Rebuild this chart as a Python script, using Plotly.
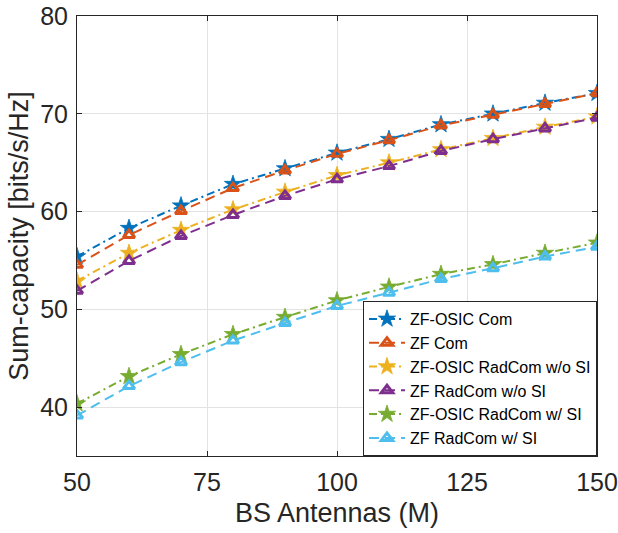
import plotly.graph_objects as go

# BS antenna counts (M)
antennas = [50, 60, 70, 80, 90, 100, 110, 120, 130, 140, 150]

# Sum-capacity [bits/s/Hz] per scheme
zf_osic_com = [55.4, 58.3, 60.6, 62.8, 64.4, 66.0, 67.4, 68.9, 70.0, 71.1, 72.1]
zf_com = [54.55, 57.6, 60.05, 62.4, 64.2, 65.9, 67.3, 68.8, 69.9, 71.0, 72.1]
zf_osic_radcom_wo_si = [52.9, 55.75, 58.1, 60.2, 62.0, 63.7, 65.0, 66.35, 67.5, 68.65, 69.7]
zf_radcom_wo_si = [51.9, 54.95, 57.5, 59.65, 61.6, 63.3, 64.65, 66.2, 67.4, 68.5, 69.6]
zf_osic_radcom_w_si = [40.35, 43.15, 45.4, 47.45, 49.2, 50.9, 52.3, 53.6, 54.6, 55.75, 56.8]
zf_radcom_w_si = [39.15, 42.15, 44.6, 46.8, 48.6, 50.35, 51.7, 53.1, 54.2, 55.4, 56.4]

x_ticks = [50, 75, 100, 125, 150]
y_ticks = [40, 50, 60, 70, 80]

DASHDOT = "8px,4px,2px,4px"
DASHED = "10px,6px"

series = [
    ("ZF-OSIC Com", zf_osic_com, "#0072BD", DASHDOT, "star"),
    ("ZF Com", zf_com, "#D95319", DASHED, "triangle"),
    ("ZF-OSIC RadCom w/o SI", zf_osic_radcom_wo_si, "#EDB120", DASHDOT, "star"),
    ("ZF RadCom w/o SI", zf_radcom_wo_si, "#7E2F8E", DASHED, "triangle"),
    ("ZF-OSIC RadCom w/ SI", zf_osic_radcom_w_si, "#77AC30", DASHDOT, "star"),
    ("ZF RadCom w/ SI", zf_radcom_w_si, "#4DBEEE", DASHED, "triangle"),
]

fig = go.Figure()
for name, vals, color, dash, mk in series:
    if mk == "star":
        marker = dict(symbol="star", size=13, color=color,
                      line=dict(color=color, width=0.8))
    else:
        marker = dict(symbol="triangle-up-open", size=10, color=color,
                      line=dict(color=color, width=3))
    fig.add_trace(go.Scatter(
        x=antennas, y=vals, name=name, mode="lines+markers",
        line=dict(color=color, width=2, dash=dash),
        marker=marker,
    ))

font_family = "Liberation Sans, Arial, Helvetica, sans-serif"
axis_color = "#262626"
grid_color = "#e3e3e3"

fig.update_layout(
    width=618, height=533,
    margin=dict(l=77, r=21, t=16, b=77, autoexpand=False),
    paper_bgcolor="white", plot_bgcolor="white",
    font=dict(family=font_family, color=axis_color),
    showlegend=True,
    legend=dict(
        x=1.0, y=0.0, xanchor="right", yanchor="bottom",
        bgcolor="white", bordercolor=axis_color, borderwidth=1,
        font=dict(family=font_family, size=16, color="#000000"),
        itemwidth=36, tracegroupgap=0,
    ),
)

fig.update_xaxes(
    range=[50, 150], tickvals=x_ticks, ticktext=[str(v) for v in x_ticks],
    showgrid=True, gridcolor=grid_color, gridwidth=1,
    showline=True, linecolor=axis_color, linewidth=1, mirror="ticks",
    ticks="inside", ticklen=5, tickcolor=axis_color,
    tickfont=dict(size=25, color=axis_color), ticklabeloverflow="allow",
    ticklabelstandoff=4,
    title=dict(text="BS Antennas (M)", font=dict(size=27, color=axis_color), standoff=8),
    zeroline=False,
)
fig.update_yaxes(
    range=[35, 80], tickvals=y_ticks, ticktext=[str(v) for v in y_ticks],
    showgrid=True, gridcolor=grid_color, gridwidth=1,
    showline=True, linecolor=axis_color, linewidth=1, mirror="ticks",
    ticks="inside", ticklen=5, tickcolor=axis_color,
    tickfont=dict(size=25, color=axis_color), ticklabeloverflow="allow",
    ticklabelstandoff=3,
    title=dict(text="Sum-capacity [bits/s/Hz]", font=dict(size=27, color=axis_color), standoff=3),
    zeroline=False,
)

fig.write_html("out.html")
